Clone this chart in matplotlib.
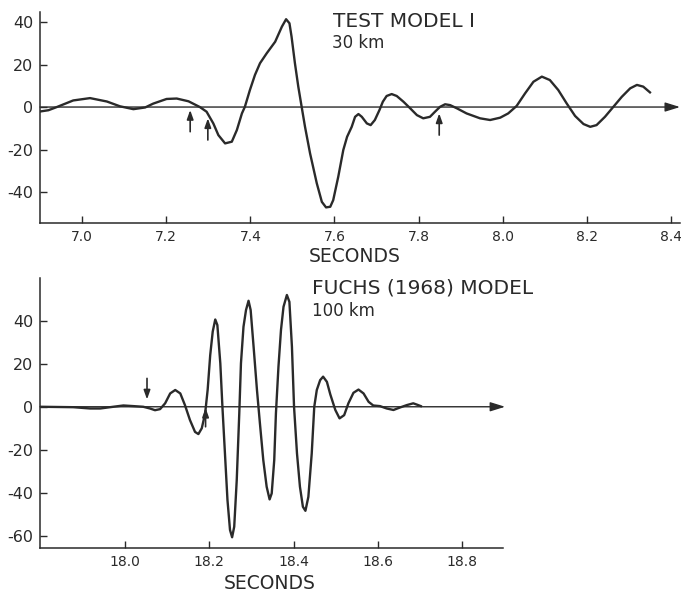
import matplotlib
matplotlib.use("Agg")
import matplotlib.pyplot as plt

plt.rcParams['font.family'] = ['DejaVu Sans']
plt.rcParams['axes.unicode_minus'] = False

INK = '#2a2a2a'

# ---- Top panel: TEST MODEL I, 30 km ----
top_t = [6.900, 6.920, 6.940, 6.979, 7.019, 7.059, 7.090, 7.122, 7.150, 7.169,
         7.201, 7.225, 7.253, 7.280, 7.296, 7.312, 7.324, 7.340, 7.356, 7.368,
         7.380, 7.387, 7.399, 7.411, 7.423, 7.439, 7.459, 7.475, 7.485, 7.493,
         7.498, 7.506, 7.514, 7.522, 7.530, 7.542, 7.558, 7.570, 7.580, 7.590,
         7.597, 7.609, 7.621, 7.630, 7.641, 7.649, 7.657, 7.665, 7.677, 7.686,
         7.696, 7.707, 7.715, 7.724, 7.736, 7.748, 7.764, 7.780, 7.796, 7.811,
         7.827, 7.839, 7.851, 7.863, 7.875, 7.891, 7.914, 7.946, 7.970, 7.994,
         8.013, 8.033, 8.053, 8.073, 8.093, 8.112, 8.132, 8.152, 8.172, 8.192,
         8.208, 8.223, 8.243, 8.263, 8.283, 8.303, 8.319, 8.334, 8.350]
top_amp = [-2.1, -1.5, 0.0, 3.1, 4.2, 2.6, 0.35, -1.0, -0.2, 1.6,
           3.8, 4.0, 2.7, 0.0, -2.2, -7.7, -13.2, -17.1, -16.3, -10.8,
           -3.0, 0.1, 8.0, 15.1, 20.6, 25.3, 30.7, 37.8, 41.3, 39.4,
           33.1, 20.6, 9.6, 0.1, -9.3, -21.8, -35.9, -44.6, -47.2, -46.9,
           -43.8, -32.8, -20.2, -14.0, -9.3, -4.6, -3.3, -4.6, -7.7, -8.5,
           -6.1, -1.4, 2.5, 5.2, 6.1, 5.2, 2.5, -0.6, -3.8, -5.3,
           -4.6, -2.2, 0.1, 1.3, 0.9, -0.6, -3.0, -5.3, -6.1, -5.0,
           -3.0, 0.5, 6.4, 11.9, 14.3, 12.7, 8.0, 1.7, -4.2, -8.0,
           -9.3, -8.5, -4.6, 0.1, 4.8, 8.8, 10.4, 9.6, 6.9]
top_xticks = [7.0, 7.2, 7.4, 7.6, 7.8, 8.0, 8.2, 8.4]
top_xticklabels = ['7.0', '7.2', '7.4', '7.6', '7.8', '8.0', '8.2', '8.4']
top_yticks = [40, 20, 0, -20, -40]
# arrows: (time, tip amplitude, tail amplitude)
top_arrow_t = [7.257, 7.299, 7.849]
top_arrow_tip = [-1.4, -5.3, -3.0]
top_arrow_tail = [-11.6, -15.5, -13.2]

# ---- Bottom panel: FUCHS (1968) MODEL, 100 km ----
bot_t = [17.798, 17.877, 17.917, 17.941, 17.972, 17.996, 18.020, 18.043, 18.059, 18.071,
         18.083, 18.095, 18.107, 18.119, 18.131, 18.142, 18.154, 18.166, 18.174, 18.182,
         18.190, 18.196, 18.202, 18.208, 18.214, 18.219, 18.226, 18.231, 18.237, 18.243,
         18.249, 18.254, 18.259, 18.265, 18.271, 18.275, 18.281, 18.287, 18.293, 18.298,
         18.305, 18.313, 18.320, 18.328, 18.336, 18.343, 18.348, 18.354, 18.358, 18.364,
         18.370, 18.376, 18.384, 18.390, 18.396, 18.401, 18.408, 18.415, 18.422, 18.428,
         18.435, 18.443, 18.449, 18.455, 18.463, 18.470, 18.479, 18.487, 18.499, 18.509,
         18.520, 18.530, 18.542, 18.554, 18.566, 18.578, 18.589, 18.605, 18.621, 18.637,
         18.653, 18.669, 18.684, 18.694, 18.702]
bot_amp = [0.0, -0.2, -0.8, -0.8, 0.0, 0.6, 0.3, 0.0, -0.8, -1.6,
           -1.1, 1.6, 6.2, 7.8, 6.2, 0.8, -6.2, -11.7, -12.7, -10.0,
           -3.1, 8.0, 24.0, 35.0, 40.6, 38.0, 20.2, 0.0, -21.7, -43.4,
           -57.3, -60.7, -55.8, -34.1, -3.1, 20.2, 37.2, 45.0, 49.3, 45.0,
           27.9, 7.8, -7.7, -24.8, -37.2, -43.1, -40.3, -24.8, -3.1, 18.6,
           35.7, 46.5, 52.0, 48.8, 27.9, 0.0, -21.7, -37.2, -46.5, -48.4,
           -41.9, -21.7, 0.0, 7.8, 12.4, 14.0, 11.6, 5.8, -1.5, -5.4,
           -3.9, 1.6, 6.5, 8.0, 6.2, 2.3, 0.6, 0.3, -0.8, -1.5,
           -0.3, 0.8, 1.6, 0.9, 0.3]
bot_xticks = [18.0, 18.2, 18.4, 18.6, 18.8]
bot_xticklabels = ['18.0', '18.2', '18.4', '18.6', '18.8']
bot_yticks = [40, 20, 0, -20, -40, -60]
bot_arrow_t = [18.052, 18.191]
bot_arrow_tip = [3.4, -0.5]
bot_arrow_tail = [13.2, -9.3]

W, H = 681, 593
fig = plt.figure(figsize=(W / 100, H / 100), dpi=100)


def px_axes(l, t, r, b):
    return fig.add_axes([l / W, 1 - b / H, (r - l) / W, (b - t) / H])


def style(ax):
    for s in ('top', 'right'):
        ax.spines[s].set_visible(False)
    for s in ('left', 'bottom'):
        ax.spines[s].set_color(INK)
        ax.spines[s].set_linewidth(1.1)
    ax.tick_params(direction='in', length=5, width=1.0, colors=INK)
    ax.tick_params(axis='y', labelsize=11.5, pad=5)
    ax.tick_params(axis='x', labelsize=10, pad=5)
    ax.patch.set_alpha(0)


def small_arrows(ax, ts, tips, tails):
    for t, tip, tail in zip(ts, tips, tails):
        ax.annotate('', xy=(t, tip), xytext=(t, tail),
                    arrowprops=dict(arrowstyle='-|>,head_length=0.45,head_width=0.16',
                                    color=INK, lw=1.2, shrinkA=0, shrinkB=0,
                                    mutation_scale=12))


def axis_arrow(ax, x0, x1):
    ax.annotate('', xy=(x1, 0), xytext=(x0, 0),
                arrowprops=dict(arrowstyle='-|>,head_length=0.9,head_width=0.28',
                                color=INK, lw=1.0, shrinkA=0, shrinkB=0,
                                mutation_scale=10), annotation_clip=False)


# Top axes
ax1 = px_axes(40, 12, 680, 222.7)
style(ax1)
ax1.set_xlim(6.900, 8.4214)
ax1.set_ylim(-54.4, 44.7)
ax1.set_xticks(top_xticks)
ax1.set_xticklabels(top_xticklabels)
ax1.set_yticks(top_yticks)
axis_arrow(ax1, 6.900, 8.4214)
ax1.plot(top_t, top_amp, color=INK, lw=1.7, solid_joinstyle='round')
small_arrows(ax1, top_arrow_t, top_arrow_tip, top_arrow_tail)

# Bottom axes
ax2 = px_axes(40, 278, 503, 548)
style(ax2)
ax2.set_xlim(17.798, 18.897)
ax2.set_ylim(-65.7, 59.9)
ax2.set_xticks(bot_xticks)
ax2.set_xticklabels(bot_xticklabels)
ax2.set_yticks(bot_yticks)
axis_arrow(ax2, 17.798, 18.902)
ax2.plot(bot_t, bot_amp, color=INK, lw=1.7, solid_joinstyle='round')
small_arrows(ax2, bot_arrow_t, bot_arrow_tip, bot_arrow_tail)


def ftext(x, y, s, **kw):
    fig.text(x / W, 1 - y / H, s, color=INK, **kw)


ftext(333, 27, 'TEST MODEL I', fontsize=14.5, va='baseline', ha='left')
ftext(332, 48, '30 km', fontsize=12, va='baseline', ha='left')
ftext(355, 262, 'SECONDS', fontsize=13.5, va='baseline', ha='center')

ftext(312, 294, 'FUCHS (1968) MODEL', fontsize=14.5, va='baseline', ha='left')
ftext(312, 316, '100 km', fontsize=12, va='baseline', ha='left')
ftext(270, 589, 'SECONDS', fontsize=13.5, va='baseline', ha='center')

fig.savefig('out.png', dpi=100)
